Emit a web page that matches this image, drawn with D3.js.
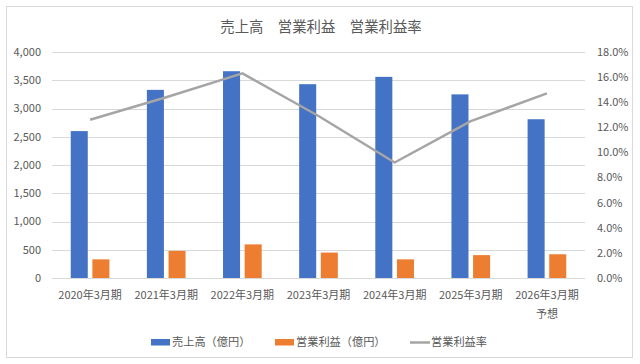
<!DOCTYPE html>
<html><head><meta charset="utf-8">
<script src="https://cdn.jsdelivr.net/npm/d3@7"></script>
<style>body{margin:0;background:#fff}svg{display:block}text{font-family:"Noto Sans CJK JP","Noto Sans",sans-serif;fill:#595959}</style>
</head><body><svg id="c" width="640" height="364"></svg>
<script>
const categories = ["2020年3月期","2021年3月期","2022年3月期","2023年3月期","2024年3月期","2025年3月期","2026年3月期\n予想"];
const sales = [2600, 3330, 3660, 3430, 3560, 3250, 2810];
const opProfit = [330, 480, 595, 450, 330, 405, 420];
const opMargin = [12.6, 14.4, 16.3, 12.9, 9.2, 12.5, 14.7];
const leftTicks = [0,500,1000,1500,2000,2500,3000,3500,4000];
const rightTicks = [0,2,4,6,8,10,12,14,16,18];
const seriesNames = ["売上高（億円）","営業利益（億円）","営業利益率"];
const title = "売上高　営業利益　営業利益率";
const colors = ["#4472c4","#ed7d31","#a5a5a5"];

const svg = d3.select("#c");
svg.append("rect").attr("x",6.5).attr("y",6.5).attr("width",626).attr("height",351)
  .attr("fill","#fff").attr("stroke","#d9d9d9");

const x0 = d3.scaleBand().domain(categories).range([52,585]).paddingInner(0).paddingOuter(0);
const x1 = d3.scaleBand().domain(["s","o"]).range([0,x0.bandwidth()]).paddingInner(0.213).paddingOuter(0.866);
const yL = d3.scaleLinear().domain([0,4000]).range([278,52]);
const yR = d3.scaleLinear().domain([0,18]).range([278,52]);

// gridlines
svg.append("g").selectAll("line").data(leftTicks).join("line")
  .attr("x1",52).attr("x2",585).attr("y1",d=>Math.round(yL(d))+0.5).attr("y2",d=>Math.round(yL(d))+0.5)
  .attr("stroke","#d9d9d9").attr("stroke-width",1);

// left axis labels
const fmt = d3.format(",");
svg.append("g").selectAll("text").data(leftTicks).join("text")
  .attr("x",41).attr("y",d=>yL(d)).attr("dy","0.35em").attr("text-anchor","end")
  .attr("font-size",11).text(d=>fmt(d));
svg.append("g").selectAll("text").data(rightTicks).join("text")
  .attr("x",597).attr("y",d=>yR(d)).attr("dy","0.35em").attr("text-anchor","start")
  .attr("font-size",11).text(d=>d.toFixed(1)+"%");

// bars
const g = svg.append("g");
g.selectAll("rect.s").data(categories).join("rect").attr("class","s")
  .attr("x",(d)=>x0(d)+x1("s")).attr("width",x1.bandwidth())
  .attr("y",(d,i)=>yL(sales[i])).attr("height",(d,i)=>yL(0)-yL(sales[i]))
  .attr("fill",colors[0]);
g.selectAll("rect.o").data(categories).join("rect").attr("class","o")
  .attr("x",(d)=>x0(d)+x1("o")).attr("width",x1.bandwidth())
  .attr("y",(d,i)=>yL(opProfit[i])).attr("height",(d,i)=>yL(0)-yL(opProfit[i]))
  .attr("fill",colors[1]);

// line
const line = d3.line().x((d,i)=>x0(categories[i])+x0.bandwidth()/2).y(d=>yR(d));
svg.append("path").datum(opMargin).attr("d",line).attr("fill","none")
  .attr("stroke",colors[2]).attr("stroke-width",2.5).attr("stroke-linejoin","round");

// x labels
const xl = svg.append("g").selectAll("text").data(categories).join("text")
  .attr("x",d=>x0(d)+x0.bandwidth()/2).attr("y",299).attr("text-anchor","middle").attr("font-size",11);
xl.each(function(d){
  const parts = d.split("\n");
  d3.select(this).selectAll("tspan").data(parts).join("tspan")
    .attr("x",x0(d)+x0.bandwidth()/2).attr("dy",(p,i)=>i?19:0).text(p=>p);
});

// title
svg.append("text").attr("x",321).attr("y",32).attr("text-anchor","middle").attr("font-size",14.4).text(title);

// legend
const lg = svg.append("g");
const ly = 342;
lg.append("rect").attr("x",151).attr("y",ly-3).attr("width",19).attr("height",6.5).attr("fill",colors[0]);
lg.append("text").attr("x",172).attr("y",ly).attr("dy","0.36em").attr("font-size",11.2).text(seriesNames[0]);
lg.append("rect").attr("x",275).attr("y",ly-3).attr("width",19).attr("height",6.5).attr("fill",colors[1]);
lg.append("text").attr("x",296).attr("y",ly).attr("dy","0.36em").attr("font-size",11.2).text(seriesNames[1]);
lg.append("line").attr("x1",410).attr("x2",430).attr("y1",ly+0.5).attr("y2",ly+0.5).attr("stroke",colors[2]).attr("stroke-width",2.5);
lg.append("text").attr("x",431).attr("y",ly).attr("dy","0.36em").attr("font-size",11.2).text(seriesNames[2]);
</script></body></html>
